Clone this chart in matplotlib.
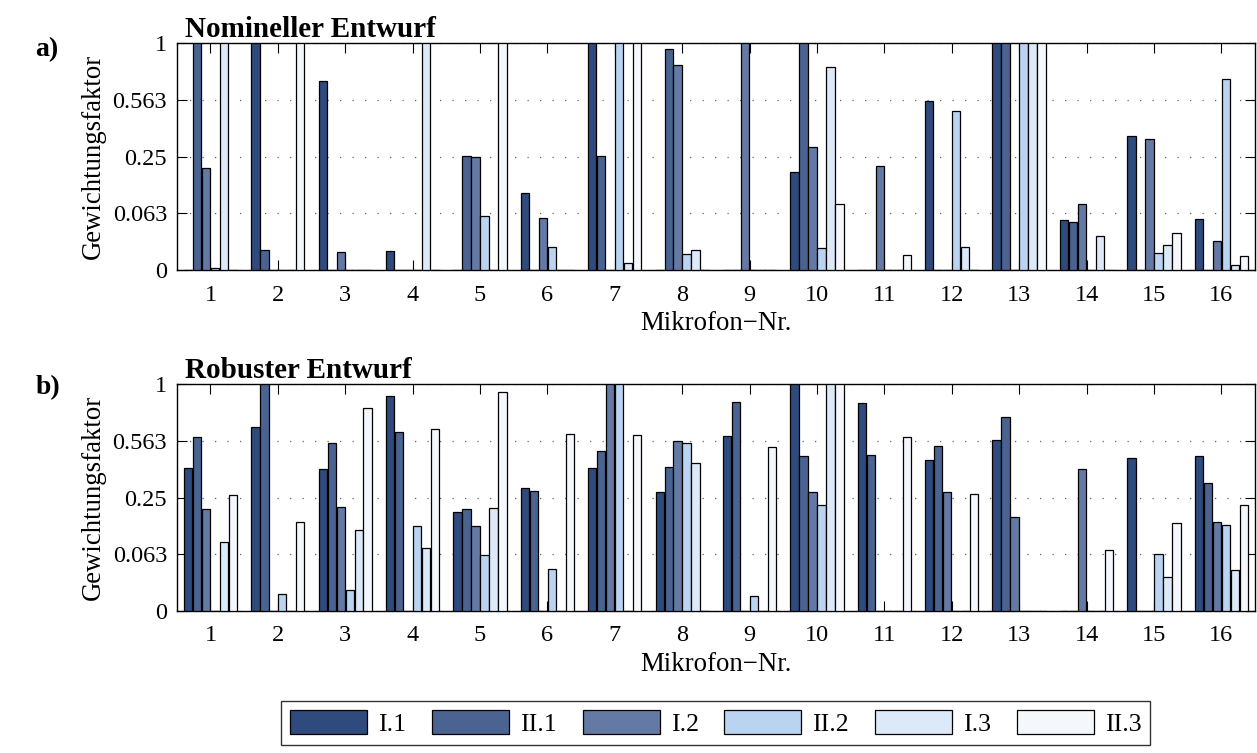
"""
Gewichtungsfaktoren je Mikrofon: nomineller vs. robuster Entwurf.
Grouped bars, sqrt-scaled y axis (ticks at 0, 0.063, 0.25, 0.563, 1).
"""

import numpy as np
import matplotlib
matplotlib.use("Agg")
import matplotlib.pyplot as plt
from matplotlib.patches import Patch

plt.rcParams["font.family"] = ["Liberation Serif", "DejaVu Serif"]

# ─────────────────────────────────────────
# Data
# ─────────────────────────────────────────

mics = list(range(1, 17))
series_labels = ["I.1", "II.1", "I.2", "II.2", "I.3", "II.3"]

# a) Nomineller Entwurf
nom_I1  = [0, 1, 0.695, 0.0072, 0, 0.115, 1, 0, 0, 0.185, 0, 0.556, 1, 0.0476, 0.35, 0.0513]
nom_II1 = [1, 0.0075, 0, 0, 0.253, 0, 0.252, 0.945, 0, 1, 0, 0, 1, 0.0455, 0, 0]
nom_I2  = [0.202, 0, 0.0064, 0, 0.248, 0.0535, 0, 0.817, 1, 0.292, 0.2095, 0, 0, 0.085, 0.334, 0.0161]
nom_II2 = [0.00005, 0, 0, 0, 0.0558, 0.0102, 1, 0.0051, 0, 0.0092, 0, 0.49, 1, 0, 0.0056, 0.706]
nom_I3  = [1, 0, 0, 1, 0, 0, 0.001, 0.0075, 0, 0.797, 0, 0.0102, 1, 0.023, 0.0119, 0.0005]
nom_II3 = [0, 1, 0, 0, 1, 0, 1, 0, 0, 0.084, 0.0042, 0, 1, 0, 0.0265, 0.004]

# b) Robuster Entwurf
rob_I1  = [0.395, 0.658, 0.389, 0.902, 0.1905, 0.294, 0.397, 0.273, 0.596, 1, 0.841, 0.444, 0.566, 0, 0.455, 0.464]
rob_II1 = [0.586, 1, 0.547, 0.624, 0.2006, 0.2785, 0.50, 0.405, 0.853, 0.466, 0.472, 0.532, 0.728, 0, 0, 0.319]
rob_I2  = [0.2006, 0, 0.208, 0, 0.1415, 0, 1, 0.561, 0, 0.277, 0, 0.273, 0.1725, 0.389, 0, 0.155]
rob_II2 = [0, 0.0054, 0.0086, 0.139, 0.0605, 0.0333, 1, 0.547, 0.004, 0.217, 0, 0, 0, 0, 0.0629, 0.145]
rob_I3  = [0.0918, 0, 0.127, 0.0776, 0.2065, 0, 0, 0.4265, 0, 1, 0, 0, 0, 0, 0.0225, 0.0327]
rob_II3 = [0.2615, 0.153, 0.802, 0.647, 0.936, 0.611, 0.6035, 0, 0.5206, 1, 0.5885, 0.2666, 0, 0.0722, 0.149, 0.218]

yticks       = [0, 0.063, 0.25, 0.563, 1]
ytick_labels = ["0", "0.063", "0.25", "0.563", "1"]

colors = ["#2f4a7c", "#4a6391", "#6479a3", "#b9d3f0", "#dce9f8", "#f4f8fd"]

FS_TICK  = 17.5
FS_LABEL = 19.25
FS_TITLE = 21
FS_LEG   = 18.5


def sqrt_fwd(v):
    return np.sqrt(np.clip(v, 0, None))


def sqrt_inv(v):
    return np.square(v)


def draw_panel(ax, series, title):
    x = np.array(mics, dtype=float)
    n = len(series)
    step = 0.8 / n
    for i, vals in enumerate(series):
        offs = (i - (n - 1) / 2) * step
        ax.bar(x + offs, vals, width=step * 0.93, color=colors[i],
               edgecolor="black", linewidth=0.9, zorder=3)

    # sqrt axis: 0.25 steps in sqrt-space
    ax.set_yscale("function", functions=(sqrt_fwd, sqrt_inv))
    ax.set_ylim(0, 1)
    ax.set_xlim(0.5, 16.5)
    ax.set_yticks(yticks)
    ax.set_yticklabels(ytick_labels)
    ax.set_xticks(mics)
    ax.yaxis.grid(True, linestyle=(0, (1, 9)), color="#666666", linewidth=0.9)
    ax.set_axisbelow(True)
    ax.tick_params(direction="in", top=True, right=True, length=7,
                   labelsize=FS_TICK)
    ax.tick_params(axis="x", pad=10.5)
    ax.tick_params(axis="y", pad=7)
    for sp in ax.spines.values():
        sp.set_linewidth(1.0)
    ax.set_xlabel("Mikrofon\u2212Nr.", fontsize=FS_LABEL, labelpad=4)
    ax.set_ylabel("Gewichtungsfaktor", fontsize=FS_LABEL, labelpad=5)
    ax.text(0.0077, 1.002, title, transform=ax.transAxes, ha="left", va="bottom",
            fontsize=FS_TITLE, fontweight="bold")


fig = plt.figure(figsize=(12.57, 7.53), dpi=100)
ax1 = fig.add_axes([0.1406, 0.6414, 0.8578, 0.3015])
ax2 = fig.add_axes([0.1406, 0.1888, 0.8578, 0.3010])

draw_panel(ax1, [nom_I1, nom_II1, nom_I2, nom_II2, nom_I3, nom_II3], "Nomineller Entwurf")
draw_panel(ax2, [rob_I1, rob_II1, rob_I2, rob_II2, rob_I3, rob_II3], "Robuster Entwurf")

fig.text(0.028, 0.934, "a)", fontsize=20, fontweight="bold", va="center")
fig.text(0.028, 0.485, "b)", fontsize=20, fontweight="bold", va="center")

# legend centred below the axes
handles = [Patch(facecolor=c, edgecolor="black", linewidth=0.9) for c in colors]
leg = fig.legend(handles, series_labels, loc="center", bbox_to_anchor=(0.5695, 0.040),
                 ncol=6, fontsize=FS_LEG, frameon=True, fancybox=False, edgecolor="black",
                 handlelength=3.0, handleheight=1.05, handletextpad=0.43,
                 columnspacing=1.0, borderpad=0.35)
leg.get_frame().set_linewidth(1.0)

fig.savefig("out.png", dpi=100)
